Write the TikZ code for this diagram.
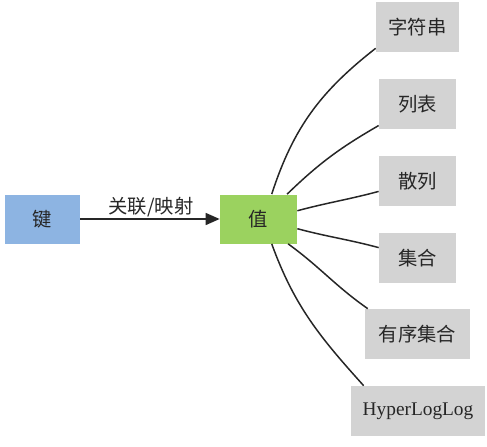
\documentclass[tikz,border=0pt]{standalone}
\usepackage{fontspec}
\setmainfont{Liberation Serif}
\newfontfamily\cjk{Noto Sans CJK SC}
\usepackage{tikz}
\usetikzlibrary{arrows.meta}

\definecolor{keyblue}{RGB}{141,180,226}
\definecolor{valgreen}{RGB}{155,210,95}
\definecolor{typegrey}{RGB}{211,211,211}

\begin{document}
\begin{tikzpicture}[>={Triangle[length=2.8mm,width=2.4mm]},
    every node/.style={font=\fontsize{11}{13}\selectfont\cjk, text=black!85},
    box/.style={minimum height=1cm, inner sep=0pt},
    typebox/.style={box, fill=typegrey, minimum width=1.54cm},
    link/.style={line width=0.85pt, draw=black!85}]
    \useasboundingbox (0,0) rectangle (9.74,-8.92);
    % key and value
    \node[box, fill=keyblue, minimum width=1.5cm, minimum height=0.98cm] (key) at (0.85,-4.38) {键};
    \node[box, fill=valgreen, minimum width=1.54cm, minimum height=0.98cm] (val) at (5.17,-4.38) {值};
    \draw[->, link] (key) -- (val);
    \node (map) at (3.02,-4.14) {关联/映射};
    % value types
    \node[typebox, minimum width=1.66cm] (str) at (8.35,-0.54) {字符串};
    \node[typebox] (list) at (8.35,-2.08) {列表};
    \node[typebox] (hash) at (8.35,-3.62) {散列};
    \node[typebox] (set) at (8.35,-5.16) {集合};
    \node[typebox, minimum width=2.1cm] (zset) at (8.35,-6.68) {有序集合};
    \node[typebox, minimum width=2.68cm, font=\fontsize{11}{13}\selectfont\rmfamily] (hll) at (8.36,-8.22) {HyperLogLog};
    % links from the value
    \draw[link] (val.62) to[out=72, in=218] (str.207);
    \draw[link] (val.41) to[out=44, in=210] (list.209);
    \draw[link] (val.12) to[out=15, in=195] (hash.195);
    \draw[link] (val.346) to[out=-15, in=165] (set.165);
    \draw[link] (val.320) to[out=-36, in=145] (zset.153);
    \draw[link] (val.298) to[out=-70, in=132] (hll.155);
\end{tikzpicture}
\end{document}
